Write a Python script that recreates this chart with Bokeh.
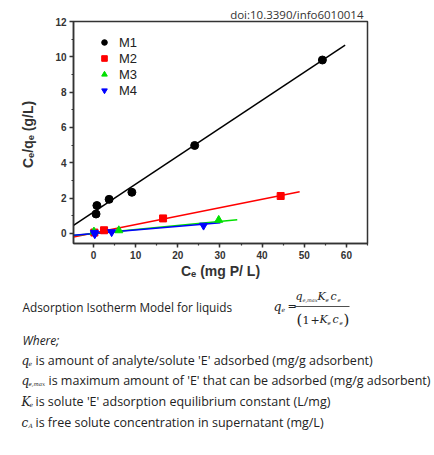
from bokeh.plotting import figure
from bokeh.models import Range1d, SingleIntervalTicker, Legend, LegendItem
from bokeh.layouts import column
from bokeh.core.properties import value
from bokeh.embed import file_html
from bokeh.resources import INLINE

# ---- data ----
m1_x = [0.6, 0.8, 3.7, 9.1, 24.0, 54.3]
m1_y = [1.1, 1.58, 1.93, 2.33, 4.98, 9.82]
m2_x = [0.2, 2.5, 16.5, 44.4]
m2_y = [0.05, 0.18, 0.85, 2.12]
m3_x = [0.1, 6.0, 29.7]
m3_y = [0.1, 0.17, 0.76]
m4_x = [0.3, 0.2, 4.3, 26.1]
m4_y = [-0.04, 0.04, 0.08, 0.45]

fit1_x = [-4.75, 59.7]
fit1_y = [0.45, 10.66]
fit2_x = [-4.75, 48.9]
fit2_y = [-0.2, 2.36]
fit3_x = [-4.75, 34.1]
fit3_y = [-0.12, 0.78]
fit4_x = [-4.75, 30.1]
fit4_y = [-0.1, 0.6]

series_names = ["M1", "M2", "M3", "M4"]
colors = ["#000000", "#FF0000", "#00E000", "#0000FF"]
markers = ["circle", "square", "triangle", "inverted_triangle"]
sizes = [8, 7, 8, 8]

doi_text = "doi:10.3390/info6010014"

p = figure(width=426, height=288, x_range=Range1d(-4.75, 65), y_range=Range1d(-0.57, 12),
           output_backend="svg", toolbar_location=None, title=doi_text,
           min_border_left=73, min_border_right=59, min_border_top=21, min_border_bottom=45)
p.title.align = "right"
p.title.text_font = "Open Sans"
p.title.text_font_size = "11.5px"
p.title.text_font_style = "normal"
p.title.text_color = "#333333"
p.title.standoff = 0
p.title.offset = 4
p.grid.visible = False
p.outline_line_color = "#333333"
p.outline_line_width = 1.5

p.xaxis.ticker = SingleIntervalTicker(interval=10, num_minor_ticks=2)
p.yaxis.ticker = SingleIntervalTicker(interval=2, num_minor_ticks=2)
for ax in [p.xaxis[0], p.yaxis[0]]:
    ax.axis_line_width = 1.5
    ax.axis_line_color = "#333333"
    ax.major_tick_line_color = "#333333"
    ax.minor_tick_line_color = "#333333"
    ax.major_tick_line_width = 1.5
    ax.minor_tick_line_width = 1.2
    ax.major_tick_in = 0
    ax.major_tick_out = 4
    ax.minor_tick_in = 0
    ax.minor_tick_out = 2
    ax.major_label_text_font = "Liberation Sans"
    ax.major_label_text_font_style = "bold"
    ax.major_label_text_font_size = "10px"
    ax.major_label_text_color = "#333333"
    ax.axis_label_text_font = "Liberation Sans"
    ax.axis_label_text_font_style = "bold"
    ax.axis_label_text_font_size = "14px"
    ax.axis_label_text_color = "#333333"
    ax.major_label_standoff = 3
p.xaxis.axis_label = "Cₑ (mg P/ L)"
p.yaxis.axis_label = "Cₑ/qₑ  (g/L)"
p.xaxis.axis_label_standoff = 1
p.yaxis.axis_label_standoff = 16

fx = [fit1_x, fit2_x, fit3_x, fit4_x]
fy = [fit1_y, fit2_y, fit3_y, fit4_y]
for xs, ys, c in zip(fx, fy, colors):
    p.line(xs, ys, line_color=c, line_width=1.5)

px = [m1_x, m2_x, m3_x, m4_x]
py = [m1_y, m2_y, m3_y, m4_y]
items = []
for xs, ys, c, m, s, n in zip(px, py, colors, markers, sizes, series_names):
    r = p.scatter(xs, ys, marker=m, size=s, fill_color=c, line_color=c)
    items.append(LegendItem(label=n, renderers=[r]))

leg = Legend(items=items, location=(24, 145), padding=0, margin=0, spacing=0,
             glyph_width=14, glyph_height=16, label_height=16, label_standoff=8,
             label_text_font="Liberation Sans", label_text_font_size="13px",
             label_text_color="#222222",
             background_fill_alpha=0, border_line_color=None)
p.add_layout(leg)

# ---- text panel ----
t = figure(width=434, height=159, x_range=Range1d(0, 434), y_range=Range1d(159, 0),
           output_backend="svg", toolbar_location=None, min_border=0,
           x_axis_type=None, y_axis_type=None)
t.grid.visible = False
t.outline_line_color = None
for fig in (p, t):
    try:
        fig.frame_align = False
    except Exception:
        pass

sans = "Open Sans"
serif = "DejaVu Serif"
txt = []  # (x, y, text, font, size, style)
txt.append((22, 18, "Adsorption Isotherm Model for liquids", sans, 11.8, "normal"))
txt.append((22, 52, "Where;", sans, 12, "italic"))
# definitions
txt.append((21, 72, "q", serif, 12, "italic"))
txt.append((28, 75, "e", serif, 6, "italic"))
txt.append((35, 72, "is amount of analyte/solute 'E' adsorbed (mg/g adsorbent)", sans, 12.5, "normal"))
txt.append((21, 92, "q", serif, 12, "italic"))
txt.append((28, 95, "e,max", serif, 5.5, "italic"))
txt.append((48, 92, "is maximum amount of 'E' that can be adsorbed (mg/g adsorbent)", sans, 12.5, "normal"))
txt.append((21, 113, "K", serif, 12, "italic"))
txt.append((29, 116, "e", serif, 6, "italic"))
txt.append((35, 113, "is solute 'E' adsorption equilibrium constant (L/mg)", sans, 12.5, "normal"))
txt.append((21, 134, "c", serif, 12, "italic"))
txt.append((28, 137, "A", serif, 6, "italic"))
txt.append((35, 134, "is free solute concentration in supernatant (mg/L)", sans, 12.5, "normal"))
# equation
txt.append((273, 18, "q", serif, 12.5, "italic"))
txt.append((281, 21, "e", serif, 6, "italic"))
txt.append((287, 18, "=", serif, 11, "normal"))
txt.append((295, 8, "q", serif, 11, "italic"))
txt.append((302, 11, "e,max", serif, 5, "italic"))
txt.append((317, 8, "K", serif, 11, "italic"))
txt.append((325, 11, "e", serif, 5.5, "italic"))
txt.append((330, 8, "c", serif, 11, "italic"))
txt.append((337, 11, "e", serif, 5.5, "italic"))
txt.append((296, 31, "(", serif, 15, "normal"))
txt.append((302, 31, "1", serif, 11, "normal"))
txt.append((310, 31, "+", serif, 11, "normal"))
txt.append((319, 31, "K", serif, 11, "italic"))
txt.append((327, 34, "e", serif, 5.5, "italic"))
txt.append((332, 31, "c", serif, 11, "italic"))
txt.append((339, 34, "e", serif, 5.5, "italic"))
txt.append((343, 31, ")", serif, 15, "normal"))

for x, y, s, f, sz, st in txt:
    t.text(x=[x], y=[y], text=[s], text_font=value(f), text_font_size=f"{sz}px",
           text_font_style=st, text_align="left", text_baseline="middle", text_color="#222222")
t.line(x=[294, 349], y=[18, 18], line_color="#222222", line_width=0.8)

layout = column(p, t, spacing=0)
open("out.html", "w").write(file_html(layout, INLINE))
